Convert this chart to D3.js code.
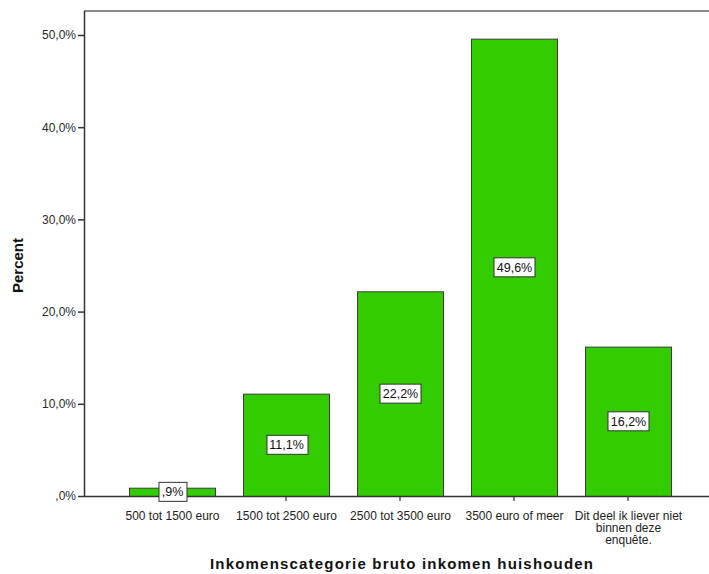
<!DOCTYPE html>
<html>
<head>
<meta charset="utf-8">
<script src="https://cdn.jsdelivr.net/npm/d3@7"></script>
<style>
  html, body { margin: 0; padding: 0; background: #fff; }
  svg { display: block; }
  text { font-family: "Liberation Sans", Arial, sans-serif; }
</style>
</head>
<body>
<svg id="chart" width="709" height="574"></svg>
<script>
// Household gross income categories and the share of respondents in each
const categories = [
  "500 tot 1500 euro",
  "1500 tot 2500 euro",
  "2500 tot 3500 euro",
  "3500 euro of meer",
  "Dit deel ik liever niet binnen deze enquête."
];
const categoryLines = [
  ["500 tot 1500 euro"],
  ["1500 tot 2500 euro"],
  ["2500 tot 3500 euro"],
  ["3500 euro of meer"],
  ["Dit deel ik liever niet", "binnen deze", "enquête."]
];
const percentages = [0.9, 11.1, 22.2, 49.6, 16.2];
const yTicks = [0, 10, 20, 30, 40, 50];

const svg = d3.select("#chart");
const plot = { left: 84, right: 716, top: 11, bottom: 496 };

const fmt = v => {
  const s = v.toFixed(1).replace(".", ",");
  return s.startsWith("0,") ? s.slice(1) : s;
};

const x = d3.scaleBand()
  .domain(categories)
  .range([plot.left, plot.right])
  .paddingInner(0.2456)
  .paddingOuter(0.3947);

const y = d3.scaleLinear()
  .domain([0, 52.6])
  .range([plot.bottom, plot.top]);

// top frame line
svg.append("line")
  .attr("x1", plot.left).attr("x2", 709)
  .attr("y1", plot.top).attr("y2", plot.top)
  .attr("stroke", "#8a8a8a").attr("stroke-width", 2);

// bars
svg.append("g").selectAll("rect")
  .data(percentages)
  .join("rect")
  .attr("x", (d, i) => x(categories[i]) + 0.5)
  .attr("y", d => y(d) + 0.5)
  .attr("width", x.bandwidth())
  .attr("height", d => y(0) - y(d))
  .attr("fill", "#33cc00")
  .attr("stroke", "#3c3c3c")
  .attr("stroke-width", 1);

// y axis
const yAxis = svg.append("g")
  .attr("transform", `translate(${plot.left},0)`)
  .call(d3.axisLeft(y).tickValues(yTicks).tickSize(6).tickPadding(2)
    .tickFormat(d => fmt(d) + "%"));
yAxis.select(".domain").attr("d", `M0.5,${plot.top}V${plot.bottom}`)
  .attr("stroke", "#333").attr("stroke-width", 1.5);
yAxis.selectAll(".tick line").attr("stroke", "#333").attr("stroke-width", 1.5);
yAxis.selectAll(".tick text")
  .attr("font-size", 12).attr("fill", "#2a2a2a")
  .attr("font-family", "'Liberation Sans', Arial, sans-serif");

// x axis
const xAxis = svg.append("g")
  .attr("transform", `translate(0,${plot.bottom})`)
  .call(d3.axisBottom(x).tickSize(5).tickFormat(""));
xAxis.select(".domain").attr("d", `M${plot.left},0.5H709`)
  .attr("stroke", "#333").attr("stroke-width", 1.5);
xAxis.selectAll(".tick line").attr("stroke", "#333").attr("stroke-width", 1.2);

// category labels, wrapped onto multiple lines where needed
svg.append("g").selectAll("text")
  .data(categoryLines)
  .join("text")
  .attr("x", (d, i) => x(categories[i]) + x.bandwidth() / 2 + 0.5)
  .attr("y", plot.bottom + 24)
  .attr("text-anchor", "middle")
  .attr("font-size", 12)
  .attr("fill", "#222")
  .each(function (lines) {
    d3.select(this).selectAll("tspan")
      .data(lines)
      .join("tspan")
      .attr("x", d3.select(this).attr("x"))
      .attr("dy", (l, j) => j === 0 ? 0 : 12)
      .text(l => l);
  });

// value labels in boxed tags at half bar height
const labels = svg.append("g").selectAll("g")
  .data(percentages)
  .join("g")
  .attr("transform", (d, i) =>
    `translate(${x(categories[i]) + x.bandwidth() / 2 + 0.5},${y(d / 2)})`);
labels.append("text")
  .attr("text-anchor", "middle")
  .attr("dy", "0.36em")
  .attr("font-size", 12.5)
  .attr("fill", "#111")
  .text(d => fmt(d) + "%");
labels.each(function () {
  const g = d3.select(this);
  const bb = g.select("text").node().getBBox();
  g.insert("rect", "text")
    .attr("x", Math.round(bb.x - 3) + 0.5)
    .attr("y", -9.5)
    .attr("width", Math.round(bb.width + 6))
    .attr("height", 19)
    .attr("fill", "#fff")
    .attr("stroke", "#333")
    .attr("stroke-width", 1);
});

// axis titles
svg.append("text")
  .attr("transform", `translate(23,${(plot.top + plot.bottom) / 2 + 12}) rotate(-90)`)
  .attr("text-anchor", "middle")
  .attr("font-size", 15)
  .attr("font-weight", "bold")
  .attr("fill", "#111")
  .text("Percent");

svg.append("text")
  .attr("x", 401.5)
  .attr("y", 569)
  .attr("text-anchor", "middle")
  .attr("font-family", "'DejaVu Sans', Verdana, sans-serif")
  .attr("font-size", 15)
  .attr("font-weight", "bold")
  .attr("fill", "#111")
  .attr("textLength", 383)
  .attr("lengthAdjust", "spacing")
  .text("Inkomenscategorie bruto inkomen huishouden");
</script>
</body>
</html>
